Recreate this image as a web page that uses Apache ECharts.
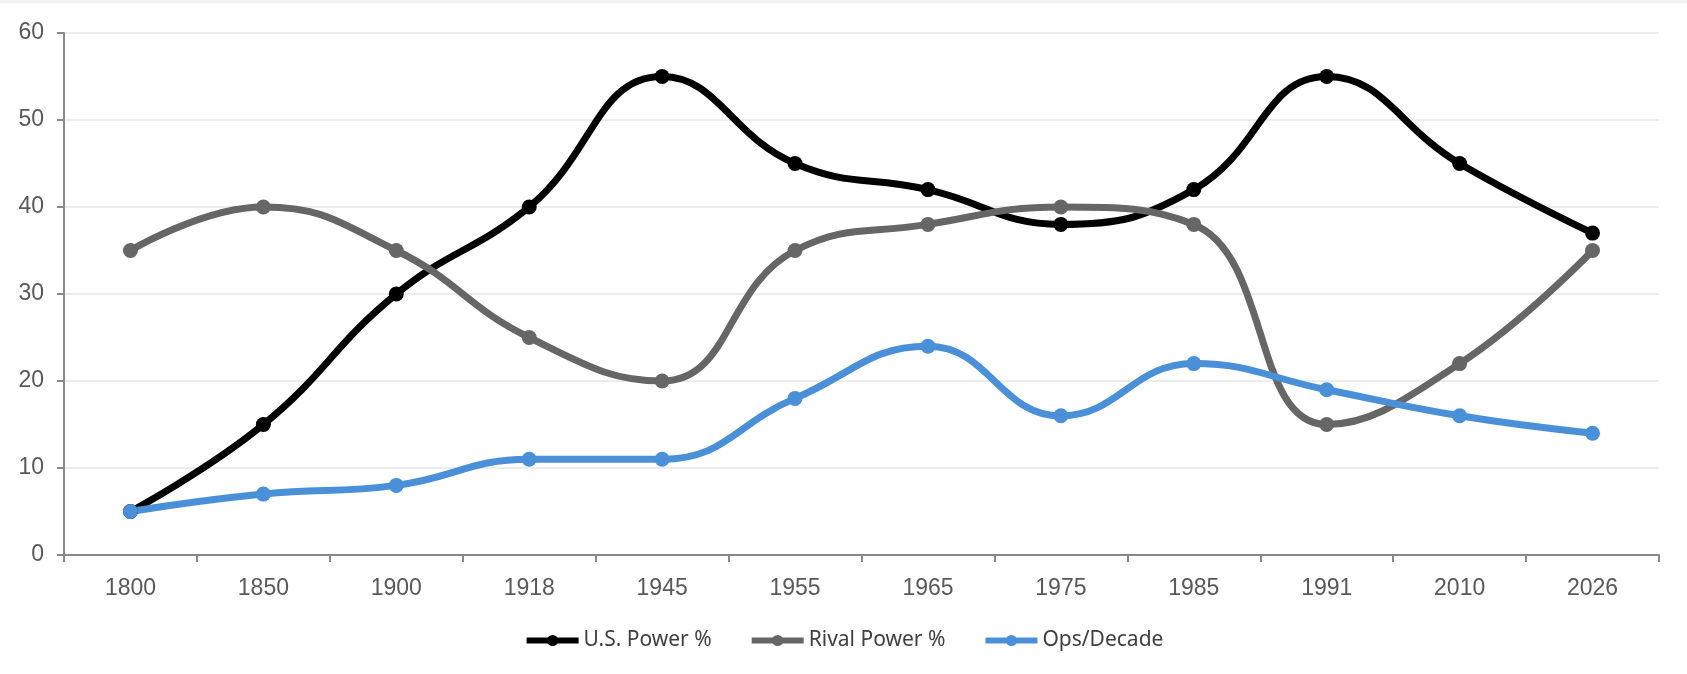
<!DOCTYPE html>
<html><head><meta charset="utf-8">
<script src="https://cdn.jsdelivr.net/npm/echarts@6/dist/echarts.min.js"></script>
<style>html,body{margin:0;padding:0;background:#fff}#top{height:3px;background:#f2f2f2}#c{width:1687px;height:671px}</style>
</head><body><div id="top"></div><div id="c"></div>
<script>
const categories = ['1800','1850','1900','1918','1945','1955','1965','1975','1985','1991','2010','2026'];
const usPower = [5,15,30,40,55,45,42,38,42,55,45,37];
const rivalPower = [35,40,35,25,20,35,38,40,38,15,22,35];
const opsDecade = [5,7,8,11,11,18,24,16,22,19,16,14];
const yTicks = [0,10,20,30,40,50,60];

const chart = echarts.init(document.getElementById('c'), null, {renderer:'canvas'});
function s(name, data, color){
  return {name, type:'line', data, smooth:0.45, symbol:'circle', symbolSize:15,
    lineStyle:{color:color, width:7}, itemStyle:{color:color}, z: 2};
}
chart.setOption({
  animation:false,
  grid:{left:64, right:28, top:30, bottom:119},
  legend:{bottom:18, left:'center', itemWidth:52, itemHeight:14, itemGap:37,
    itemStyle:{borderWidth:0},
    lineStyle:{width:6},
    textStyle:{fontFamily:'Noto Sans, Liberation Sans, Arial', fontSize:21, color:'#404040'},
    data:['U.S. Power %','Rival Power %','Ops/Decade']},
  xAxis:{type:'category', data:categories, boundaryGap:true,
    axisLine:{lineStyle:{color:'#888', width:2}},
    axisTick:{show:true, length:7, lineStyle:{color:'#888', width:2}},
    axisLabel:{color:'#595959', fontSize:23, fontFamily:'Liberation Sans, Arial', margin:22}},
  yAxis:{type:'value', min:yTicks[0], max:yTicks[yTicks.length-1], interval:10,
    axisLine:{show:true, lineStyle:{color:'#888', width:2}},
    axisTick:{show:true, length:7, lineStyle:{color:'#888', width:2}},
    splitLine:{lineStyle:{color:'#e6e6e6', width:1.5}},
    axisLabel:{color:'#595959', fontSize:23, fontFamily:'Liberation Sans, Arial', margin:20}},
  series:[
    s('U.S. Power %', usPower, '#000000'),
    s('Rival Power %', rivalPower, '#666666'),
    s('Ops/Decade', opsDecade, '#4a90d9')
  ]
});
</script></body></html>
